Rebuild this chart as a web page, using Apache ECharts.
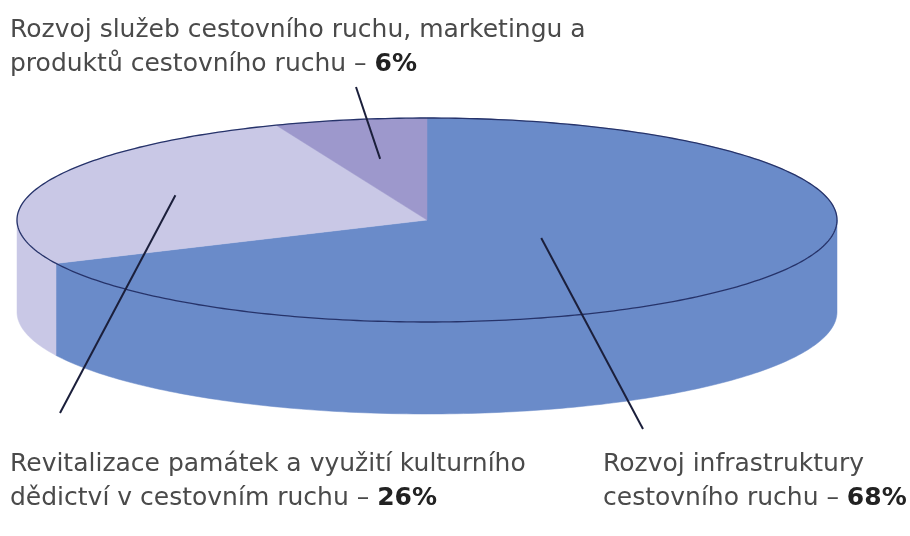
<!DOCTYPE html>
<html>
<head>
<meta charset="utf-8">
<script src="https://cdn.jsdelivr.net/npm/echarts@6/dist/echarts.min.js"></script>
<style>
html, body { margin: 0; background: #fff; }
#main { width: 910px; height: 536px; }
</style>
</head>
<body>
<div id="main"></div>
<script>
// oblasti podpory a jejich podíly (%)
var names = [
    'Rozvoj infrastruktury\ncestovního ruchu',
    'Revitalizace památek a využití kulturního\ndědictví v cestovním ruchu',
    'Rozvoj služeb cestovního ruchu, marketingu a\nproduktů cestovního ruchu'
];
var shares = [68, 26, 6];
var colors = ['#6a8bc9', '#c9c8e6', '#9d98cc'];

// rozvržení "3D" koláče
var pie = { cx: 427, cy: 220, rx: 410, ry: 102, depth: 92 };
var labelPos = [[603, 447], [10, 447], [10, 13]];
var leaderEnd = [[643, 429], [60, 413], [356, 87]];
var leaderFrac = [0.33, 0.66, 0.61];

var chart = echarts.init(document.getElementById('main'));

function pt(deg, f, dy) {
    var r = deg * Math.PI / 180;
    return [pie.cx + pie.rx * f * Math.cos(r), pie.cy - pie.ry * f * Math.sin(r) + (dy || 0)];
}

// oblouk po směru hodin (from > to)
function arc(from, to, dy) {
    var pts = [];
    var n = Math.max(2, Math.ceil(from - to));
    for (var i = 0; i <= n; i++) {
        pts.push(pt(from - (from - to) * i / n, 1, dy));
    }
    return pts;
}

function renderItem(params, api) {
    var i = params.dataIndex;
    var total = 0, before = 0;
    for (var j = 0; j < shares.length; j++) {
        total += shares[j];
        if (j < i) before += shares[j];
    }
    var a0 = 90 - before / total * 360;
    var a1 = a0 - api.value(0) / total * 360;
    var children = [];

    // boční stěna - jen přední (viditelná) část
    for (var k = -2; k <= 1; k++) {
        var hi = Math.min(a0, k * 360), lo = Math.max(a1, k * 360 - 180);
        if (hi - lo > 0.01) {
            var top = arc(hi, lo, 0);
            var bot = arc(hi, lo, pie.depth).reverse();
            children.push({
                type: 'polygon',
                shape: { points: top.concat(bot) },
                style: { fill: colors[i], stroke: colors[i], lineWidth: 0.5 }
            });
        }
    }

    // horní plocha
    var rim = arc(a0, a1, 0);
    children.push({
        type: 'polygon',
        shape: { points: [[pie.cx, pie.cy]].concat(rim) },
        style: { fill: colors[i], stroke: colors[i], lineWidth: 0.5 }
    });
    children.push({
        type: 'polyline',
        z2: 5,
        shape: { points: rim },
        style: { stroke: '#26336a', lineWidth: 1.3, fill: null }
    });

    // odkazová čára a popisek
    var p = pt((a0 + a1) / 2, leaderFrac[i], 0);
    children.push({
        type: 'line',
        z2: 10,
        shape: { x1: p[0], y1: p[1], x2: leaderEnd[i][0], y2: leaderEnd[i][1] },
        style: { stroke: '#1b1f3b', lineWidth: 2 }
    });
    children.push({
        type: 'text',
        z2: 10,
        x: labelPos[i][0],
        y: labelPos[i][1],
        style: {
            text: names[i] + ' – {b|' + api.value(0) + '%}',
            fontFamily: 'DejaVu Sans',
            fontSize: 25,
            lineHeight: 34,
            fill: '#4a4a4a',
            verticalAlign: 'top',
            align: 'left',
            rich: {
                b: { fontFamily: 'DejaVu Sans', fontSize: 25, fontWeight: 'bold', lineHeight: 34, fill: '#222', color: '#222' }
            }
        }
    });

    return { type: 'group', children: children };
}

var option = {
    animation: false,
    backgroundColor: '#fff',
    series: [{
        type: 'custom',
        coordinateSystem: 'none',
        renderItem: renderItem,
        data: shares.map(function (v) { return [v]; })
    }]
};

chart.setOption(option);
</script>
</body>
</html>
